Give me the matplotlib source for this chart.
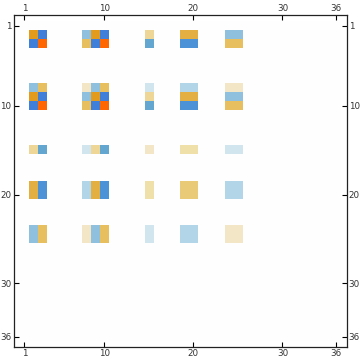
import numpy as np
import matplotlib
matplotlib.use('Agg')
import matplotlib.pyplot as plt
from matplotlib.colors import LinearSegmentedColormap

# matrix size and the rows/cols that carry non-zero entries
n = 36
active = [2, 3, 8, 9, 10, 15, 19, 20, 24, 25]

# value levels (negative -> blues, positive -> oranges)
O, G, g, y, w, l, k, c = 1.0, 0.85, 0.7, 0.55, 0.45, 0.3, 0.2, 0.12
B, b, m, L, s, v = -1.0, -0.8, -0.6, -0.4, -0.25, -0.12

# symmetric values on the active rows/cols
sub = [
    [G, B, L, G, B, l, g, g, L, L],
    [B, O, y, B, O, m, b, b, y, y],
    [L, y, c, L, y, v, s, s, c, c],
    [G, B, L, G, B, l, g, g, L, L],
    [B, O, y, B, O, m, b, b, y, y],
    [l, m, v, l, m, c, k, k, v, v],
    [g, b, s, g, b, k, w, w, s, s],
    [g, b, s, g, b, k, w, w, s, s],
    [L, y, c, L, y, v, s, s, c, c],
    [L, y, c, L, y, v, s, s, c, c],
]

tick_vals = [1, 10, 20, 30, 36]

# colour scale like the default matrix plot one
anchors = [(-1.0, '#3f7fd9'), (-0.8, '#4c93d7'), (-0.6, '#64a8d0'),
           (-0.4, '#8fc0dd'), (-0.25, '#b2d5e8'), (-0.12, '#d2e6f0'),
           (0.0, '#ffffff'), (0.12, '#f3e7c8'), (0.2, '#efe0aa'),
           (0.3, '#efd897'), (0.45, '#eacb78'), (0.55, '#e8c060'),
           (0.7, '#e4af43'), (0.85, '#e39c1f'), (1.0, '#ff6600')]
cmap = LinearSegmentedColormap.from_list(
    'mma', [((a + 1) / 2, col) for a, col in anchors], N=1024)

M = np.zeros((n, n))
ia = np.array(active) - 1
M[np.ix_(ia, ia)] = np.array(sub)

fig = plt.figure(figsize=(3.6, 3.63), dpi=100)
W, H = 360, 363
ax = fig.add_axes([13.5 / W, 1 - 346.7 / H, (346.7 - 13.5) / W, (346.7 - 15) / H])

ax.imshow(M, cmap=cmap, vmin=-1, vmax=1, interpolation='nearest',
          extent=(0.5, n + 0.5, n + 0.5, 0.5), aspect='auto')
pad = 0.72
ax.set_xlim(0.5 - pad, n + 0.5 + pad)
ax.set_ylim(n + 0.5 + pad - 0.1, 0.5 - pad)

ax.set_xticks(tick_vals)
ax.set_yticks(tick_vals)
ax.set_xticklabels([str(t) for t in tick_vals])
ax.set_yticklabels([str(t) for t in tick_vals])
ax.tick_params(axis='both', direction='in', length=3.5, width=0.8,
               labelsize=6.3, labelcolor='#333333', pad=1.5,
               top=True, bottom=True, left=True, right=True,
               labeltop=True, labelbottom=True, labelleft=True, labelright=True)
for sp in ax.spines.values():
    sp.set_linewidth(0.9)
    sp.set_color('#222222')

plt.savefig('out.png', dpi=100)
